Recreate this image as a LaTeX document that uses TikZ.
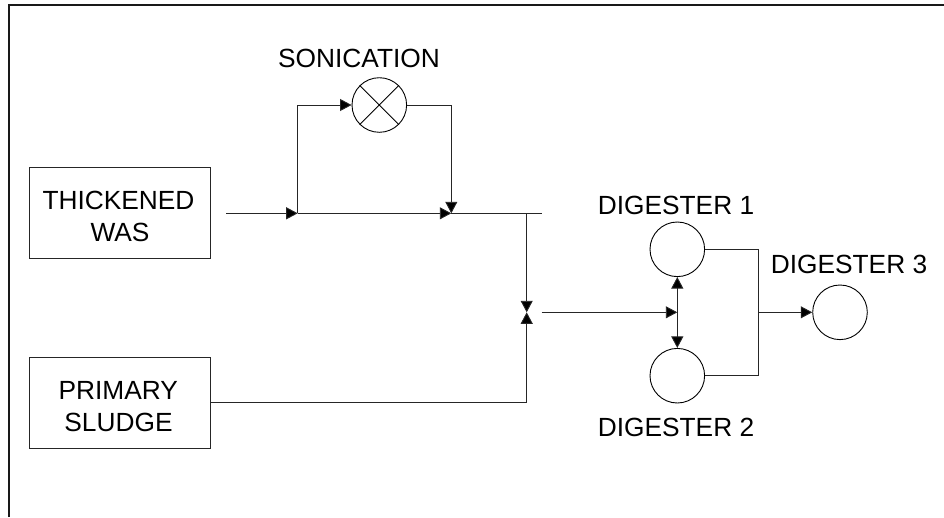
\documentclass[tikz,border=0pt]{standalone}
\usepackage{fontspec}
\setmainfont{Liberation Sans}
\usetikzlibrary{arrows.meta}
\newcommand{\firstline}{\rule{0pt}{25pt}}
\tikzset{
  x=1pt,y=-1pt,
  line/.style={draw=black!85,line width=0.9pt},
  flow/.style={line,-{Triangle[length=11.5pt,width=12pt,fill=black]}},
  both/.style={line,{Triangle[length=11.5pt,width=12pt,fill=black]}-{Triangle[length=11.5pt,width=12pt,fill=black]}},
  box/.style={draw=black!85,line width=0.9pt,minimum width=181.4pt,minimum height=90.6pt,inner sep=0pt,align=center,font=\fontsize{26.3}{32}\selectfont},
  tank/.style={circle,draw=black,line width=0.9pt,minimum size=54.6pt,inner sep=0pt},
  lab/.style={inner sep=0pt,font=\fontsize{26.3}{30}\selectfont}
}
\begin{document}
\begin{tikzpicture}
\useasboundingbox (0,0) rectangle (944,517);
\draw[line width=1.7pt,draw=black!90] (8.7,517) -- (8.7,5.3) -- (944,5.3);
\node[box] (was) at (120,213) {\firstline THICKENED\hspace*{3pt}\\WAS};
\node[box] (ps) at (120,402.7) {\firstline PRIMARY\hspace*{3.5pt}\\SLUDGE\hspace*{3pt}};
\node[tank] (son) at (379.3,105) {};
\draw[line width=0.9pt] (son.45) -- (son.225) (son.135) -- (son.315);
\node[tank] (d1) at (677.3,249.3) {};
\node[tank] (d2) at (677.3,375.7) {};
\node[tank] (d3) at (840,312.3) {};
\node[lab] (tson) at (359,58) {SONICATION};
\node[lab] (t1) at (676,205) {DIGESTER 1};
\node[lab] (t2) at (676,427) {DIGESTER 2};
\node[lab] (t3) at (849,264) {DIGESTER 3};
\coordinate (in) at (226,213.3);
\coordinate (j1) at (297.7,213.3);
\coordinate (j2) at (451.3,213.3);
\coordinate (j3) at (526.7,213.3);
\coordinate (end) at (541.7,213.3);
\coordinate (up) at (297.7,105);
\coordinate (dn) at (451.3,105);
\coordinate (v) at (526.7,312.3);
\coordinate (low) at (526.7,402.7);
\coordinate (out) at (541.7,312.3);
\coordinate (mid) at (677.3,312.3);
\coordinate (m1) at (758.7,249.3);
\coordinate (m2) at (758.7,375.7);
\coordinate (m) at (758.7,312.3);
\draw[flow] (in) -- (j1);
\draw[flow] (j1) -- (j2);
\draw[line] (j2) -- (end);
\draw[flow] (j1) -- (up) -- (son.west);
\draw[flow] (son.east) -- (dn) -- (j2);
\draw[flow] (j3) -- (v);
\draw[flow] (ps.east |- low) -- (low) -- (v);
\draw[flow] (out) -- (mid);
\draw[both] (d1.south) -- (d2.north);
\draw[line] (d1.east) -- (m1) -- (m2) -- (d2.east);
\draw[flow] (m) -- (d3.west);
\end{tikzpicture}
\end{document}
